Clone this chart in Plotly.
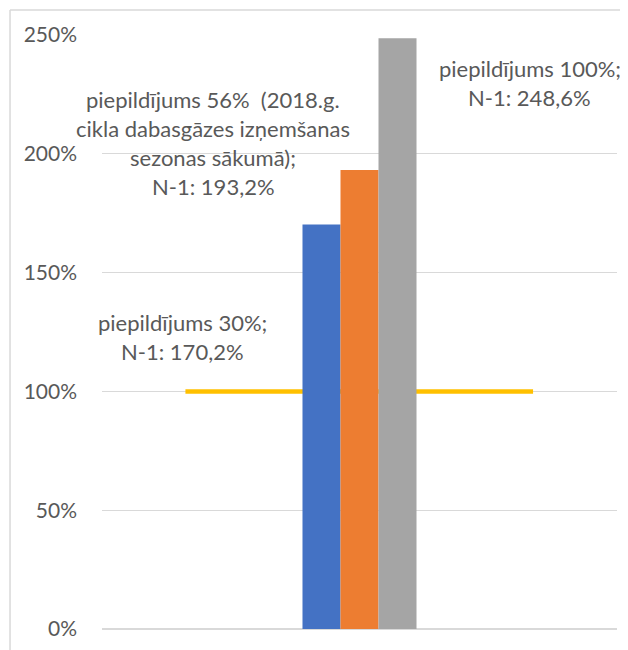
import plotly.graph_objects as go

# N-1 value by storage fill level
series_names = ["piepildījums 30%", "piepildījums 56%", "piepildījums 100%"]
n1_values = [170.2, 193.2, 248.6]
bar_colors = ["#4472C4", "#ED7D31", "#A5A5A5"]

# 100% reference line
threshold_y = [100, 100]
threshold_x = [-0.338, 0.337]

y_ticks = [0, 50, 100, 150, 200, 250]
y_tick_text = ["0%", "50%", "100%", "150%", "200%", "250%"]

# data-label texts, one list per bar
label_lines = [
    ["piepildījums 30%;", "N-1: 170,2%"],
    ["piepildījums 56%\u00a0 (2018.g.", "cikla dabasgāzes izņemšanas", "sezonas sākumā);", "N-1: 193,2%"],
    ["piepildījums 100%;", "N-1: 248,6%"],
]
label_anchor = [(-0.343, 129.2), (-0.284, 223.0), (0.331, 236.1)]

FONT = "Lato, Calibri, sans-serif"
TXT = "#595959"
GRID = "#D9D9D9"

fig = go.Figure()
# line sits behind the bars
fig.add_trace(go.Scatter(x=threshold_x, y=threshold_y, mode="lines", zorder=0,
                         line=dict(color="#FFC000", width=4.5), hoverinfo="skip"))

for name, val, col in zip(series_names, n1_values, bar_colors):
    fig.add_trace(go.Bar(x=[0], y=[val], name=name, zorder=1,
                         marker=dict(color=col, line=dict(width=0))))

for lines, (ax, ay) in zip(label_lines, label_anchor):
    for i, t in enumerate(lines):
        fig.add_annotation(x=ax, y=ay, text=t, showarrow=False, yshift=-29 * i,
                           xanchor="center", yanchor="middle",
                           font=dict(family=FONT, size=22, color=TXT))

# chart frame (cropped at right/bottom)
fig.add_shape(type="line", xref="paper", yref="paper", x0=-0.1786, x1=1.2, y0=1.0421, y1=1.0421,
              line=dict(color=GRID, width=1.5))
fig.add_shape(type="line", xref="paper", yref="paper", x0=-0.1786, x1=-0.1786, y0=1.0421, y1=-0.2,
              line=dict(color=GRID, width=1.5))

fig.update_layout(
    width=620, height=642,
    margin=dict(l=94, r=11, t=27, b=21),
    barmode="group", bargap=0.7786, bargroupgap=0,
    showlegend=False,
    plot_bgcolor="white", paper_bgcolor="white",
    font=dict(family=FONT, color=TXT),
)
fig.update_xaxes(range=[-0.5, 0.5], showticklabels=False, showgrid=False, zeroline=False, showline=False)
fig.update_yaxes(range=[0, 250], tickvals=y_ticks, ticktext=y_tick_text, showgrid=True, gridcolor=GRID,
                 gridwidth=1, zeroline=True, zerolinecolor=GRID, zerolinewidth=1.5,
                 ticks="", ticklabelstandoff=24, tickfont=dict(family=FONT, size=21, color=TXT))

fig.write_html("out.html")
